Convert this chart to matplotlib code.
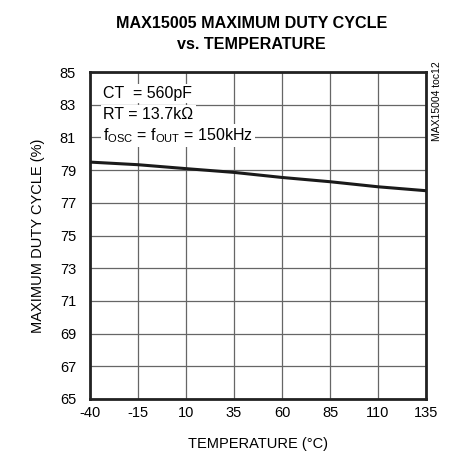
import matplotlib
matplotlib.use("Agg")
import matplotlib.pyplot as plt

plt.rcParams['font.family'] = ['Liberation Sans', 'DejaVu Sans']
plt.rcParams['mathtext.fontset'] = 'custom'
plt.rcParams['mathtext.rm'] = 'Liberation Sans'

temperature = [-40, -15, 10, 35, 60, 85, 110, 135]
duty_cycle = [79.49, 79.33, 79.09, 78.86, 78.55, 78.29, 77.98, 77.74]
x_ticks = [-40, -15, 10, 35, 60, 85, 110, 135]
y_ticks = [65, 67, 69, 71, 73, 75, 77, 79, 81, 83, 85]

fig = plt.figure(figsize=(4.53, 4.71), dpi=100)
ax = fig.add_axes([0.1987, 0.1529, 0.7417, 0.6942])

ax.plot(temperature, duty_cycle, color='#1a1a1a', lw=2.2, zorder=3)
ax.set_xlim(-40, 135)
ax.set_ylim(65, 85)
ax.set_xticks(x_ticks)
ax.set_yticks(y_ticks)
ax.set_xticklabels([str(v) for v in x_ticks], fontsize=10.5)
ax.set_yticklabels([str(v) for v in y_ticks], fontsize=10.5)
ax.tick_params(axis='x', length=0, pad=5)
ax.tick_params(axis='y', length=0, pad=10)
ax.grid(True, color='#666666', lw=0.9)
ax.set_axisbelow(True)
for s in ax.spines.values():
    s.set_linewidth(2.0)
    s.set_color('#222222')

ax.set_xlabel('TEMPERATURE (°C)', fontsize=10.5, labelpad=12)
ax.set_ylabel('MAXIMUM DUTY CYCLE (%)', fontsize=10.5, labelpad=11)
fig.suptitle('MAX15005 MAXIMUM DUTY CYCLE\nvs. TEMPERATURE', fontsize=11.6,
             fontweight='bold', x=0.555, y=0.965, linespacing=1.5)

bb = dict(facecolor='white', edgecolor='none', pad=1.5)
kw = dict(transform=ax.transAxes, fontsize=11.5, va='baseline', ha='left', bbox=bb, zorder=4)
ax.text(0.04, 0.920, 'CT  = 560pF', **kw)
ax.text(0.04, 0.856, 'RT = 13.7kΩ', **kw)
ax.text(0.04, 0.792, r'$\mathregular{f_{OSC}}$ = $\mathregular{f_{OUT}}$ = 150kHz', **kw)

fig.text(0.965, 0.87, 'MAX15004 toc12', rotation=90, fontsize=7.5,
         ha='center', va='top')

fig.savefig('out.png', dpi=100)
